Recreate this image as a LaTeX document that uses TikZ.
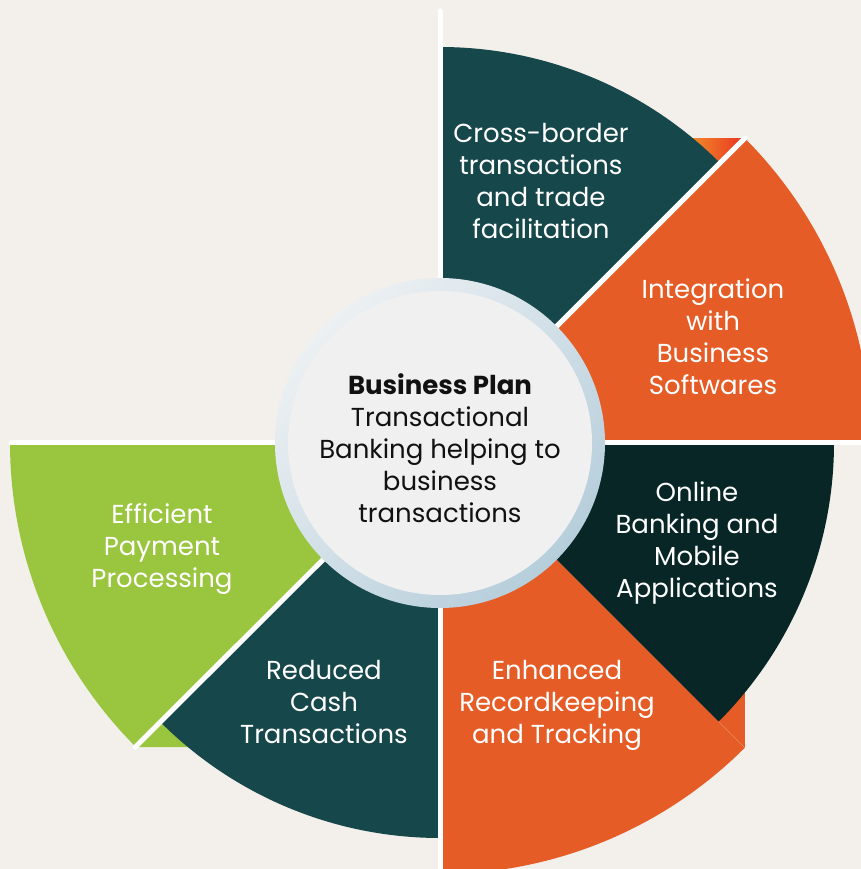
\documentclass[tikz,border=0pt]{standalone}
\usepackage{fontspec}
\setmainfont{Poppins}
\definecolor{bg}{RGB}{243,240,236}
\definecolor{tealc}{RGB}{22,71,74}
\definecolor{darkc}{RGB}{8,38,38}
\definecolor{orangec}{RGB}{229,92,38}
\definecolor{greenc}{RGB}{154,197,63}
\definecolor{ringlight}{RGB}{236,240,243}
\definecolor{ringdark}{RGB}{182,206,219}
\definecolor{diskc}{RGB}{240,240,240}
\definecolor{textdark}{RGB}{17,17,17}
\tikzset{
  segtext/.style={text=white, align=center, font=\fontsize{19.5}{24}\selectfont, inner sep=0pt},
  centertext/.style={text=textdark, align=center, font=\fontsize{19.5}{24}\selectfont, inner sep=0pt},
  sep/.style={draw=white, line width=3.75pt, line cap=round}
}
\begin{document}
\begin{tikzpicture}[x=0.75pt,y=0.75pt]
\useasboundingbox (0,0) rectangle (861,869);
\fill[bg] (0,0) rectangle (861,869);
\begin{scope}
\clip (0,0) rectangle (861,869);
\coordinate (C) at (440,426);
% hidden extensions of the large segments
\shade[left color={rgb,255:red,242;green,140;blue,40}, right color={rgb,255:red,232;green,52;blue,34}]
  (690,730.8) -- (744.8,730.8) -- (690,676) -- cycle;
\fill[orangec] (744.8,121.2) -- (744.8,185) -- (681,185) -- cycle;
\fill[greenc] (135.2,121.9) -- (200,121.9) -- (200,186) -- cycle;
% segments
\fill[orangec] (C) -- ++(0:431) arc[start angle=0,end angle=45,radius=431] -- cycle;
\fill[orangec] (C) -- ++(-90:431) arc[start angle=-90,end angle=-45,radius=431] -- cycle;
\fill[greenc] (C) -- ++(180:430) arc[start angle=180,end angle=225,radius=430] -- cycle;
\fill[tealc] (C) -- ++(45:396) arc[start angle=45,end angle=90,radius=396] -- cycle;
\fill[darkc] (C) -- ++(-45:394) arc[start angle=-45,end angle=0,radius=394] -- cycle;
\fill[tealc] (C) -- ++(-135:395) arc[start angle=-135,end angle=-90,radius=395] -- cycle;
% separators
\coordinate (vtop) at (440,858);
\coordinate (vbot) at (440,-10);
\coordinate (hl) at (11,426);
\coordinate (hr) at (875,426);
\coordinate (d1) at (744.8,730.8);
\coordinate (d2) at (135.2,121.9);
\coordinate (d3a) at (718.6,147.4);
\coordinate (d3b) at (744.8,121.2);
\draw[orangec!75!white, line width=0.5pt] (d3a) -- (d3b);
\draw[sep] (vtop) -- (vbot);
\draw[sep] (hl) -- (hr);
\draw[sep] (C) -- (d1);
\draw[sep] (C) -- (d2);
% centre circle
\shade[top color=ringlight, bottom color=ringdark, shading angle=45] (C) circle[radius=165];
\fill[diskc] (C) circle[radius=152];
\end{scope}
% texts
\node[segtext] (t1) at (541,688) {Cross-border\\transactions\\and trade\\facilitation};
\node[segtext] (t2) at (713,532) {Integration\\with\\Business\\Softwares};
\node[segtext] (t3) at (697,326) {Online\\Banking and\\Mobile\\Applications};
\node[segtext] (t4) at (557,164) {Enhanced\\Recordkeeping\\and Tracking};
\node[segtext] (t5) at (324,167) {Reduced\\Cash\\Transactions};
\node[segtext] (t6) at (162,320) {Efficient\\Payment\\Processing};
\node[centertext] (ct) at (440,421) {\textbf{Business Plan}\\Transactional\\Banking helping to\\business\\transactions};
\end{tikzpicture}
\end{document}
